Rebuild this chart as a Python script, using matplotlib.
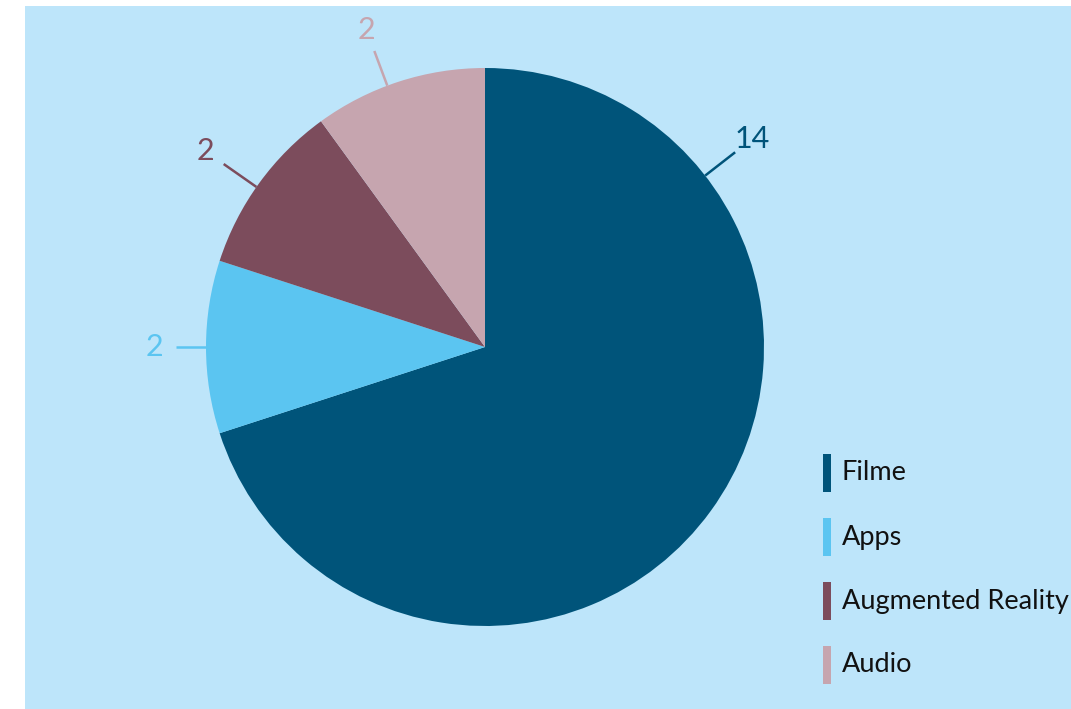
import numpy as np
import matplotlib
matplotlib.use("Agg")
import matplotlib.pyplot as plt
from matplotlib.patches import Rectangle

categories = ["Filme", "Apps", "Augmented Reality", "Audio"]
values = [14, 2, 2, 2]
colors = ["#00547A", "#5BC5F1", "#7C4C5C", "#C6A5AF"]

plt.rcParams['font.family'] = ['Lato', 'DejaVu Sans']

W, H = 1071, 709
fig = plt.figure(figsize=(W / 100, H / 100), dpi=100, facecolor="white")
fig.add_artist(Rectangle((25 / W, 0), 1 - 25 / W, 1 - 6 / H, transform=fig.transFigure,
                         facecolor="#BDE5FA", edgecolor="none", zorder=0))

ax = fig.add_axes([0, 0, 1, 1])
ax.set_facecolor("none")
cx, cy, R = 485, H - 347, 279
wedges, _ = ax.pie(values, colors=colors, startangle=90, counterclock=False,
                   center=(cx, cy), radius=R, wedgeprops=dict(linewidth=0))
ax.set_xlim(0, W)
ax.set_ylim(0, H)
ax.set_aspect("equal")
ax.axis("off")

# label placement styling (angle offsets from slice middle, leader lengths in px)
angle_shift = [73.9, 0.0, 1.0, 2.5]
leader_len = [38, 30, 40, 37]
label_gap = 22
for i, w in enumerate(wedges):
    ang = (w.theta1 + w.theta2) / 2 + angle_shift[i]
    a = np.deg2rad(ang)
    r0 = R
    r1 = R + leader_len[i]
    r2 = r1 + label_gap
    ax.plot([cx + r0 * np.cos(a), cx + r1 * np.cos(a)],
            [cy + r0 * np.sin(a), cy + r1 * np.sin(a)],
            color=colors[i], lw=1.8, solid_capstyle="butt")
    ax.text(cx + r2 * np.cos(a), cy + r2 * np.sin(a), str(values[i]),
            color=colors[i], fontsize=22, ha="center", va="center")

# legend: narrow colour bars with labels
leg_x, leg_y0, leg_dy = 823, 473, 64
for i, (cat, col) in enumerate(zip(categories, colors)):
    yc = H - (leg_y0 + i * leg_dy)
    ax.add_patch(Rectangle((leg_x, yc - 19), 8, 38, facecolor=col, edgecolor="none"))
    ax.text(leg_x + 19, yc, cat, color="#111111", fontsize=19.5, ha="left", va="center")

fig.savefig("out.png", dpi=100, facecolor="white")
